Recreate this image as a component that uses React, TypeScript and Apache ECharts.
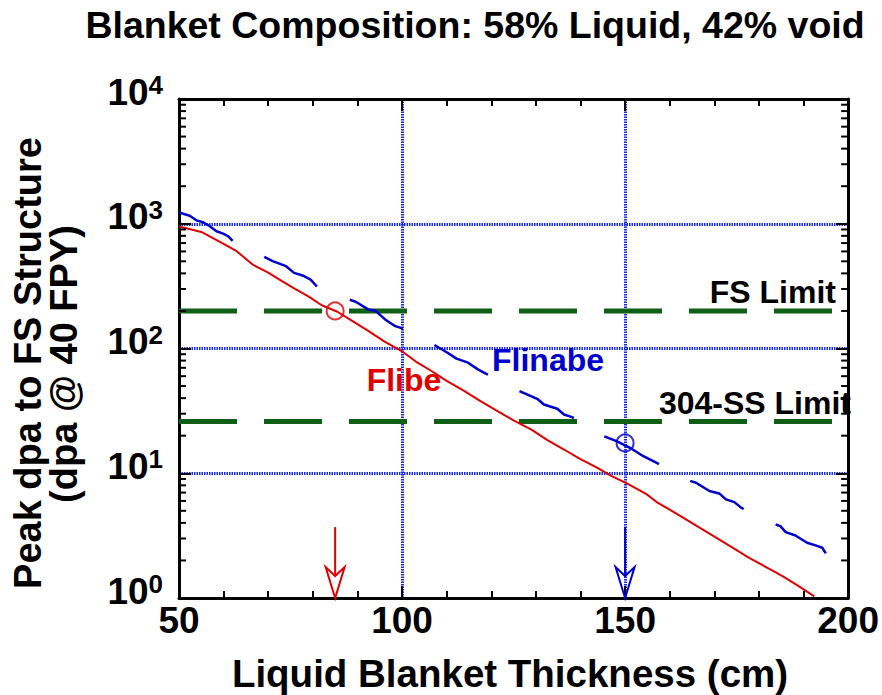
import React, { useEffect, useRef } from "react";
import * as echarts from "echarts";

const FONT = "'Liberation Sans', Arial, Helvetica, sans-serif";

const X_MIN = 50;
const X_MAX = 200;
const X_INTERVAL = 50;
const Y_MIN = 1;
const Y_MAX = 10000;

const titleText = "Blanket Composition: 58% Liquid, 42% void";
const xAxisName = "Liquid Blanket Thickness (cm)";
const yAxisName1 = "Peak dpa to FS Structure";
const yAxisName2 = "(dpa @ 40 FPY)";

// Flibe (red, solid)
const flibeX = [50, 55, 60, 63, 66.5, 70, 73, 76, 79, 82, 85.5, 89, 92.5, 96, 100, 103, 106.6, 110, 114, 117.5, 121.4, 125, 129, 132.5, 136.3, 140, 143.7, 147, 150.4, 154.8, 157, 160, 163, 166.5, 170.4, 174, 177.8, 181.5, 185.3, 189, 192.4];
const flibeY = [950, 860, 690, 600, 471, 405, 348, 301, 262, 222, 197, 165, 138, 114, 95, 79, 66, 55, 45.5, 38, 31.5, 26.5, 22.4, 18.5, 15.5, 13, 11.1, 9.5, 8.3, 6.8, 5.9, 5.1, 4.4, 3.7, 3.05, 2.55, 2.1, 1.78, 1.5, 1.24, 1.03];

// Flinabe (blue, dashed)
const flinabeX = [50, 52.4, 53.9, 55.4, 56.9, 58.4, 59.9, 61.0, 62.1, 69.1, 71.0, 74.0, 75.8, 77.7, 79.5, 81.0, 88.1, 89.6, 92.5, 94.0, 96.2, 98.5, 100.3, 107.0, 110.3, 112.2, 114.8, 117.0, 119.1, 125.9, 128.9, 130.3, 131.8, 134.8, 136.3, 138.1, 144.8, 148.1, 151.1, 154.1, 157.1, 164.1, 165.9, 168.9, 171.1, 172.6, 174.5, 176.0, 183.0, 184.8, 186.0, 188.2, 190.8, 192.7, 194.2, 195.0];
const flinabeY = [1230, 1160, 1065, 1028, 955, 871, 834, 794, 724, 543, 501, 457, 404, 385, 357, 312, 247, 237, 205, 201, 171, 151, 144, 108, 92, 83, 77, 68, 62, 46.3, 41.5, 39.5, 35.6, 32.9, 29.6, 28.2, 20.1, 18.1, 16.0, 13.7, 12.1, 8.8, 8.4, 7.2, 6.89, 6.17, 5.87, 5.3, 3.96, 3.77, 3.37, 3.17, 2.77, 2.64, 2.53, 2.28];

// Design-limit lines
const limitNames = ["FS Limit", "304-SS Limit"];
const limitValues = [200, 26];

// Chosen thicknesses (circle markers + arrows)
const designX = [85, 150];
const designY = [200, 17.5];
const designColors = ["#e00000", "#0000cc"];
const arrowTop = 3.7;

// log-axis minor ticks
const yMinorTicks = [2, 3, 4, 5, 6, 7, 8, 9, 20, 30, 40, 50, 60, 70, 80, 90, 200, 300, 400, 500, 600, 700, 800, 900, 2000, 3000, 4000, 5000, 6000, 7000, 8000, 9000];

const BLACK = "#000";
const GRID_BLUE = "#1a2be6";
const GREEN = "#0f5f16";

export default function App() {
  const ref = useRef<HTMLDivElement>(null);

  useEffect(() => {
    if (!ref.current) return;
    const chart = echarts.init(ref.current, null, { renderer: "svg" });

    const axisLine = { show: true, onZero: false, lineStyle: { color: BLACK, width: 3 } };
    const axisTick = { show: true, inside: true, length: 12, lineStyle: { color: BLACK, width: 2 } };
    const minorTick = { show: true, splitNumber: 5, length: 7, lineStyle: { color: BLACK, width: 2 } };
    const gridLine = { show: true, lineStyle: { color: GRID_BLUE, width: 3, type: [1.5, 1] } };

    const option: any = {
      animation: false,
      backgroundColor: "#fff",
      grid: { left: 179, right: 29, top: 99, bottom: 97, containLabel: false },
      xAxis: [
        {
          type: "value", min: X_MIN, max: X_MAX, interval: X_INTERVAL, position: "bottom",
          axisLine, axisTick, minorTick,
          axisLabel: { fontSize: 37, fontWeight: "bold", fontFamily: FONT, color: BLACK, margin: 4, lineHeight: 37 },
          splitLine: gridLine,
        },
        {
          type: "value", min: X_MIN, max: X_MAX, interval: X_INTERVAL, position: "top",
          axisLine, axisTick, minorTick, axisLabel: { show: false }, splitLine: { show: false },
        },
      ],
      yAxis: [
        {
          type: "log", logBase: 10, min: Y_MIN, max: Y_MAX, position: "left",
          axisLine, axisTick,
          axisLabel: {
            margin: 16,
            formatter: (v: number) => `{b|10}{s|${Math.round(Math.log10(v))}}`,
            rich: {
              b: { fontSize: 37, fontWeight: "bold", fontFamily: FONT, color: BLACK, lineHeight: 40 },
              s: { fontSize: 26, fontWeight: "bold", fontFamily: FONT, color: BLACK, lineHeight: 24, verticalAlign: "top" },
            },
            padding: [0, 0, 14, 0],
          },
          splitLine: gridLine,
        },
        {
          type: "log", logBase: 10, min: Y_MIN, max: Y_MAX, position: "right",
          axisLine, axisTick, axisLabel: { show: false }, splitLine: { show: false },
        },
      ],
      series: [
        {
          type: "custom",
          silent: true,
          clip: false,
          z: 6,
          data: yMinorTicks.map((v) => [X_MIN, v]),
          encode: { x: 0, y: 1 },
          renderItem: (_p: any, api: any) => {
            const v = api.value(1);
            const l = api.coord([X_MIN, v]);
            const r = api.coord([X_MAX, v]);
            return {
              type: "group",
              children: [
                { type: "line", shape: { x1: l[0], y1: l[1], x2: l[0] + 7, y2: l[1] }, style: { stroke: BLACK, lineWidth: 2 } },
                { type: "line", shape: { x1: r[0], y1: r[1], x2: r[0] - 7, y2: r[1] }, style: { stroke: BLACK, lineWidth: 2 } },
              ],
            };
          },
        },
        ...limitValues.map((v, i) => ({
          name: limitNames[i],
          type: "line",
          data: [[X_MIN, v], [X_MAX, v]],
          showSymbol: false,
          silent: true,
          z: 2,
          lineStyle: { color: GREEN, width: 5, type: [58, 27] },
        })),
        {
          name: "Flibe",
          type: "line",
          data: flibeX.map((x, i) => [x, flibeY[i]]),
          showSymbol: false,
          silent: true,
          z: 3,
          lineStyle: { color: "#e00000", width: 2 },
        },
        {
          name: "Flinabe",
          type: "line",
          data: flinabeX.map((x, i) => [x, flinabeY[i]]),
          showSymbol: false,
          silent: true,
          z: 3,
          lineStyle: { color: "#0000cc", width: 2.5, type: [61.5, 35.5] },
        },
        {
          type: "scatter",
          silent: true,
          z: 4,
          symbol: "circle",
          symbolSize: 17,
          data: designX.map((x, i) => ({
            value: [x, designY[i]],
            itemStyle: { color: "transparent", borderColor: designColors[i], borderWidth: 2 },
          })),
        },
        {
          type: "custom",
          silent: true,
          clip: false,
          z: 4,
          data: designX.map((x) => [x, arrowTop, Y_MIN]),
          encode: { x: 0, y: 1 },
          renderItem: (p: any, api: any) => {
            const x = api.value(0);
            const top = api.coord([x, api.value(1)]);
            const tip = api.coord([x, api.value(2)]);
            const c = designColors[p.dataIndex];
            return {
              type: "group",
              children: [
                { type: "line", shape: { x1: top[0], y1: top[1], x2: tip[0], y2: tip[1] - 22 }, style: { stroke: c, lineWidth: 2 } },
                {
                  type: "polygon",
                  shape: { points: [[tip[0], tip[1]], [tip[0] - 9.5, tip[1] - 31], [tip[0], tip[1] - 22], [tip[0] + 9.5, tip[1] - 31]] },
                  style: { fill: "none", stroke: c, lineWidth: 2 },
                },
              ],
            };
          },
        },
      ],
      graphic: [
        { type: "text", x: 475, y: 25, style: { text: titleText, fontSize: 37.5, fontWeight: "bold", fontFamily: FONT, fill: BLACK, align: "center", verticalAlign: "middle" } },
        { type: "text", x: 510, y: 673, style: { text: xAxisName, fontSize: 38.5, fontWeight: "bold", fontFamily: FONT, fill: BLACK, align: "center", verticalAlign: "middle" } },
        { type: "text", x: 28, y: 363, rotation: Math.PI / 2, style: { text: yAxisName1, fontSize: 38, fontWeight: "bold", fontFamily: FONT, fill: BLACK, align: "center", verticalAlign: "middle" } },
        { type: "text", x: 64, y: 364, rotation: Math.PI / 2, style: { text: yAxisName2, fontSize: 38, fontWeight: "bold", fontFamily: FONT, fill: BLACK, align: "center", verticalAlign: "middle" } },
        { type: "text", x: 404, y: 380, z: 10, style: { text: "Flibe", fontSize: 32, fontWeight: "bold", fontFamily: FONT, fill: "#e00000", align: "center", verticalAlign: "middle" } },
        { type: "text", x: 548, y: 360, z: 10, style: { text: "Flinabe", fontSize: 32, fontWeight: "bold", fontFamily: FONT, fill: "#0000cc", align: "center", verticalAlign: "middle" } },
        { type: "text", x: 836, y: 292, z: 10, style: { text: limitNames[0], fontSize: 32, fontWeight: "bold", fontFamily: FONT, fill: BLACK, align: "right", verticalAlign: "middle" } },
        { type: "text", x: 851, y: 403, z: 10, style: { text: limitNames[1], fontSize: 32, fontWeight: "bold", fontFamily: FONT, fill: BLACK, align: "right", verticalAlign: "middle" } },
      ],
    };

    chart.setOption(option);
    return () => chart.dispose();
  }, []);

  return <div ref={ref} style={{ position: "fixed", left: 0, top: 0, width: 882, height: 695 }} />;
}
